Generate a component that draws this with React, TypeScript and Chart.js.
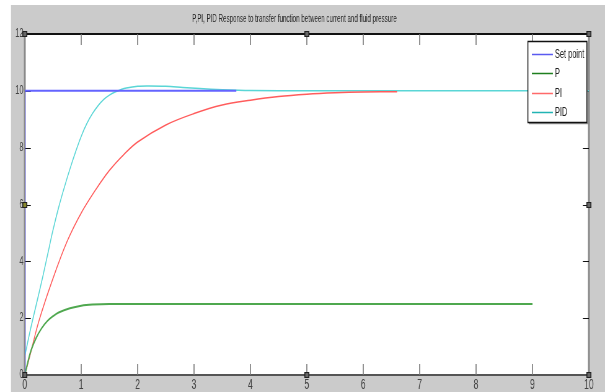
import React, { useEffect, useRef } from "react";
import { Chart, registerables } from "chart.js";

Chart.register(...registerables);

const chartTitle = "P,PI, PID Response to transfer function between current and fluid pressure";
const seriesNames = ["Set point", "P", "PI", "PID"];
const lineColors = ["#6464ff", "#4fa84f", "#ff5c5c", "#5ad6d6"];
const legendColors = ["#5a5af0", "#1f7f1f", "#ff6a6a", "#22b4b4"];
const xTickValues = [0, 1, 2, 3, 4, 5, 6, 7, 8, 9, 10];
const yTickValues = [0, 2, 4, 6, 8, 10, 12];

const setT = [0, 0, 3.75];
const setV = [0, 10, 10];

const pT = [0, 0.1, 0.2, 0.3, 0.4, 0.5, 0.6, 0.8, 1.0, 1.2, 1.5, 9];
const pV = [0, 0.8, 1.3, 1.65, 1.9, 2.07, 2.2, 2.35, 2.44, 2.48, 2.5, 2.5];

const piT = [0, 0.1, 0.25, 0.5, 0.75, 1.0, 1.25, 1.5, 1.75, 2.0, 2.5, 3.0, 3.5, 4.0, 4.5, 5.0, 5.5, 6.0, 6.6];
const piV = [0, 0.75, 1.9, 3.4, 4.7, 5.7, 6.5, 7.2, 7.75, 8.2, 8.8, 9.2, 9.5, 9.67, 9.8, 9.88, 9.93, 9.96, 9.97];

const pidT = [0, 0.1, 0.2, 0.3, 0.4, 0.5, 0.6, 0.7, 0.8, 0.9, 1.0, 1.1, 1.2, 1.3, 1.4, 1.5, 1.6, 1.7, 1.8, 2.0, 2.2, 2.5, 2.8, 3.1, 3.5, 4.0, 5.0, 10];
const pidV = [0.67, 1.6, 2.45, 3.3, 4.2, 5.1, 5.9, 6.6, 7.25, 7.85, 8.4, 8.85, 9.2, 9.48, 9.7, 9.85, 9.96, 10.04, 10.1, 10.16, 10.17, 10.16, 10.12, 10.08, 10.04, 10.01, 10.0, 10.0];

const FONT = "'Liberation Sans', Arial, sans-serif";

// the reference picture is horizontally compressed: draw wider, display at 605px
const CSS_W = 605;
const CSS_H = 392;
const INT_W = 976;
const S = CSS_W / INT_W;
const hx = (v: number) => v / S; // css px -> internal px (horizontal)

const pts = (t: number[], v: number[]) => t.map((x, i) => ({ x, y: v[i] }));

const framePlugin = {
  id: "matlabFrame",
  beforeDraw(chart: any) {
    const { ctx, width, height, chartArea: a } = chart;
    ctx.save();
    ctx.fillStyle = "#ffffff";
    ctx.fillRect(0, 0, width, height);
    ctx.fillStyle = "#cbcbcb";
    ctx.fillRect(hx(11), 5, width - hx(11), height - 5);
    ctx.fillStyle = "#ffffff";
    ctx.fillRect(a.left, a.top, a.right - a.left, a.bottom - a.top);
    ctx.restore();
  },
  beforeDatasetsDraw(chart: any) {
    const { ctx, chartArea: a, scales } = chart;
    const xs = scales.x;
    const ys = scales.y;
    ctx.save();
    ctx.lineWidth = 2;
    ctx.strokeStyle = "#111";
    ctx.beginPath(); ctx.moveTo(a.left, a.top); ctx.lineTo(a.right, a.top); ctx.stroke();
    ctx.strokeStyle = "#555";
    ctx.beginPath(); ctx.moveTo(a.left, a.bottom); ctx.lineTo(a.right, a.bottom); ctx.stroke();
    ctx.lineWidth = 3;
    ctx.strokeStyle = "#8a8a8a";
    ctx.beginPath(); ctx.moveTo(a.left, a.top); ctx.lineTo(a.left, a.bottom); ctx.stroke();
    ctx.beginPath(); ctx.moveTo(a.right, a.top); ctx.lineTo(a.right, a.bottom); ctx.stroke();
    ctx.lineWidth = 1.6;
    ctx.strokeStyle = "#777";
    xTickValues.slice(1, -1).forEach((v) => {
      const px = xs.getPixelForValue(v);
      ctx.beginPath(); ctx.moveTo(px, a.bottom); ctx.lineTo(px, a.bottom - 11); ctx.stroke();
      ctx.beginPath(); ctx.moveTo(px, a.top); ctx.lineTo(px, a.top + 11); ctx.stroke();
    });
    ctx.lineWidth = 1;
    ctx.strokeStyle = "#111";
    yTickValues.slice(1, -1).forEach((v) => {
      const py = Math.round(ys.getPixelForValue(v)) + 0.5;
      ctx.beginPath(); ctx.moveTo(a.left, py); ctx.lineTo(a.left + hx(6), py); ctx.stroke();
      ctx.beginPath(); ctx.moveTo(a.right, py); ctx.lineTo(a.right - hx(6), py); ctx.stroke();
    });
    ctx.restore();
  },
  afterDraw(chart: any) {
    const { ctx, chartArea: a } = chart;
    ctx.save();
    const midX = (a.left + a.right) / 2;
    const midY = (a.top + a.bottom) / 2;
    const handles = [
      [a.left, a.top], [midX, a.top], [a.right, a.top],
      [a.left, midY], [a.right, midY],
      [a.left, a.bottom], [midX, a.bottom], [a.right, a.bottom],
    ];
    handles.forEach(([px, py], i) => {
      ctx.fillStyle = "#222";
      ctx.fillRect(px - hx(2.5), Math.round(py) - 3, hx(5), 6);
      ctx.fillStyle = i === 3 ? "#8a8a30" : "#666";
      ctx.fillRect(px - hx(1.5), Math.round(py) - 2, hx(3), 4);
    });
    const bw = hx(59), bh = 81;
    const bx = a.right - hx(61);
    const by = Math.round(a.top) + 7 + 0.5;
    ctx.fillStyle = "#ffffff";
    ctx.fillRect(bx, by, bw, bh);
    ctx.strokeStyle = "#999";
    ctx.lineWidth = 1.5;
    ctx.beginPath(); ctx.moveTo(bx + bw + 1.5, by + 1); ctx.lineTo(bx + bw + 1.5, by + bh + 1); ctx.lineTo(bx + 1.5, by + bh + 1); ctx.stroke();
    ctx.strokeStyle = "#111";
    ctx.lineWidth = 1.5;
    ctx.strokeRect(bx, by, bw, bh);
    ctx.font = `12px ${FONT}`;
    ctx.textBaseline = "middle";
    ctx.textAlign = "left";
    seriesNames.forEach((name, i) => {
      const ly = Math.round(by + 12 + i * 19.5) + 0.5;
      ctx.strokeStyle = legendColors[i];
      ctx.lineWidth = 1.5;
      ctx.beginPath(); ctx.moveTo(bx + hx(4), ly); ctx.lineTo(bx + hx(25), ly); ctx.stroke();
      ctx.fillStyle = "#222";
      ctx.fillText(name, bx + hx(27), ly);
    });
    ctx.restore();
  },
};

export default function App() {
  const canvasRef = useRef<HTMLCanvasElement | null>(null);

  useEffect(() => {
    if (!canvasRef.current) return;
    const chart = new Chart(canvasRef.current, {
      type: "line",
      data: {
        datasets: [
          { label: seriesNames[0], data: pts(setT, setV), borderColor: lineColors[0], borderWidth: 2, tension: 0 },
          { label: seriesNames[1], data: pts(pT, pV), borderColor: lineColors[1], borderWidth: 2, tension: 0.35 },
          { label: seriesNames[2], data: pts(piT, piV), borderColor: lineColors[2], borderWidth: 1.5, tension: 0.35 },
          { label: seriesNames[3], data: pts(pidT, pidV), borderColor: lineColors[3], borderWidth: 1.5, tension: 0.35 },
        ],
      },
      options: {
        animation: false,
        responsive: false,
        devicePixelRatio: 1,
        parsing: false,
        elements: { point: { radius: 0 } },
        layout: { padding: { left: 0, right: Math.round(hx(16)), top: 0, bottom: 0 } },
        plugins: {
          legend: { display: false },
          tooltip: { enabled: false },
          title: {
            display: true,
            text: chartTitle,
            color: "#222",
            font: { family: FONT, size: 10, weight: "normal", lineHeight: 1.2 },
            padding: { top: 13, bottom: 9 },
          },
        },
        scales: {
          x: {
            type: "linear",
            min: 0,
            max: 10,
            afterBuildTicks: (s: any) => { s.ticks = xTickValues.map((v) => ({ value: v })); },
            ticks: { color: "#444", font: { family: FONT, size: 14 }, padding: 2, maxRotation: 0, autoSkip: false },
            grid: { display: false, drawTicks: false },
            border: { display: false },
            afterFit: (s: any) => { s.height = 17; s.paddingLeft = 0; s.paddingRight = 0; },
          },
          y: {
            type: "linear",
            min: 0,
            max: 12,
            afterBuildTicks: (s: any) => { s.ticks = yTickValues.map((v) => ({ value: v })); },
            ticks: { color: "#444", font: { family: FONT, size: 12 }, padding: 2 },
            grid: { display: false, drawTicks: false },
            border: { display: false },
            afterFit: (s: any) => { s.width = Math.round(hx(25)); s.paddingTop = 0; s.paddingBottom = 0; },
          },
        },
      },
      plugins: [framePlugin],
    } as any);
    return () => chart.destroy();
  }, []);

  return (
    <div style={{ position: "fixed", left: 0, top: 0, width: CSS_W, height: CSS_H, background: "#fff" }}>
      <canvas ref={canvasRef} width={INT_W} height={CSS_H} style={{ display: "block", width: CSS_W, height: CSS_H }} />
    </div>
  );
}
